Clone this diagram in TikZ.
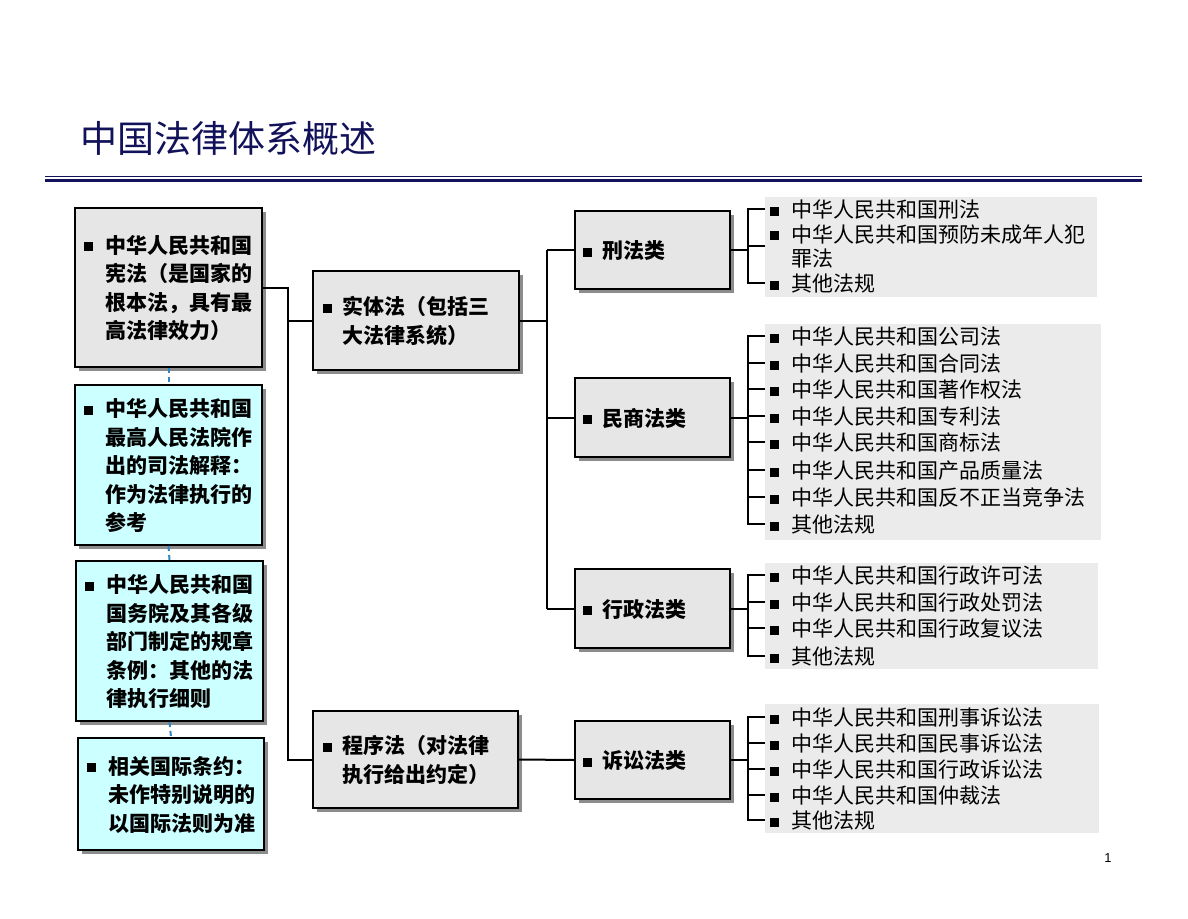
\documentclass[tikz,border=0pt]{standalone}
\usepackage{fontspec}
\setmainfont{Noto Sans CJK SC}
\newfontfamily\numfont{Liberation Sans}
\usetikzlibrary{shadows}
\definecolor{boxgray}{HTML}{E6E6E6}
\definecolor{boxcyan}{HTML}{CCFFFF}
\definecolor{itemgray}{HTML}{EBEBEB}
\definecolor{navy}{HTML}{12125A}
\definecolor{dashblue}{HTML}{2F86C0}
\newcommand{\bul}{\rule[2pt]{9pt}{9pt}}
\newcommand{\blines}[2][19pt]{\raisebox{-3pt}[\height][\depth]{\makebox[#1][l]{\bul}\begin{tabular}[t]{@{}l@{}}#2\end{tabular}}}

\begin{document}
\begin{tikzpicture}[x=1pt,y=-1pt]
\tikzstyle{box} = [draw=black, line width=2pt, fill=boxgray, drop shadow={shadow xshift=4pt, shadow yshift=-4pt, fill=black!45, opacity=1}, inner xsep=9pt, align=left, font=\fontsize{21}{28.5}\selectfont\bfseries]
\tikzstyle{cyanbox} = [box, fill=boxcyan]
\tikzstyle{item} = [anchor=west, inner xsep=5pt, inner ysep=0pt, font=\fontsize{21}{22}\selectfont]
\tikzstyle{edge} = [draw=black, line width=2pt]
\tikzstyle{dashline} = [draw=dashblue, line width=2pt, dash pattern=on 5pt off 4pt]

\useasboundingbox (0,0) rectangle (1188,918);

% title
\node[anchor=west, inner sep=0pt, text=navy, font=\fontsize{37}{40}\selectfont] (title) at (80,138) {中国法律体系概述};
\draw[navy, line width=1pt] (45,176) -- (1142,176);
\draw[navy, line width=3.5pt] (45,180.5) -- (1142,180.5);

% left column
\node[box, minimum width=187pt, minimum height=159pt, text width=169pt] (xianfa) at (168.5,287.5)
  {\blines[21pt]{中华人民共和国\\宪法（是国家的\\根本法，具有最\\高法律效力）}};
\node[cyanbox, minimum width=187pt, minimum height=160pt, text width=169pt] (sifa) at (168.5,465)
  {\blines[21pt]{中华人民共和国\\最高人民法院作\\出的司法解释：\\作为法律执行的\\参考}};
\node[cyanbox, minimum width=187pt, minimum height=160pt, text width=169pt] (guizhang) at (169.5,641)
  {\blines[21pt]{中华人民共和国\\国务院及其各级\\部门制定的规章\\条例：其他的法\\律执行细则}};
\node[cyanbox, minimum width=186pt, minimum height=112pt, text width=168pt] (guoji) at (171,794)
  {\blines[21pt]{相关国际条约：\\未作特别说明的\\以国际法则为准}};

\draw[dashline] (xianfa.south) -- (sifa.north);
\draw[dashline] (sifa.south) -- (guizhang.north);
\draw[dashline] (guizhang.south) -- (guoji.north);

% middle column
\node[box, minimum width=206pt, minimum height=99pt, text width=186pt, inner xsep=10pt] (shiti) at (416,320.5)
  {\blines{实体法（包括三\\大法律系统）}};
\node[box, minimum width=205pt, minimum height=97pt, text width=185pt, inner xsep=10pt] (chengxu) at (415.5,759.5)
  {\blines{程序法（对法律\\执行给出约定）}};

\coordinate (jx) at (288,0);
\draw[edge] (xianfa.east) -- (xianfa.east -| jx) |- (chengxu.west);
\draw[edge] (jx |- shiti.west) -- (shiti.west);

% categories
\node[box, minimum width=155pt, minimum height=78pt, text width=139pt, inner xsep=8pt] (xing) at (652.5,250) {\blines{刑法类}};
\node[box, minimum width=155pt, minimum height=79pt, text width=139pt, inner xsep=8pt] (minshang) at (652.5,417.5) {\blines{民商法类}};
\node[box, minimum width=155pt, minimum height=79pt, text width=139pt, inner xsep=8pt] (xingzheng) at (652.5,608.5) {\blines{行政法类}};
\node[box, minimum width=155pt, minimum height=78pt, text width=139pt, inner xsep=8pt] (susong) at (652.5,760) {\blines{诉讼法类}};

\coordinate (kx) at (547,0);
\draw[edge] (shiti.east) -- (shiti.east -| kx);
\draw[edge] (kx |- xing.west) -- (kx |- xingzheng.west);
\draw[edge] (kx |- xing.west) -- (xing.west);
\draw[edge] (kx |- minshang.west) -- (minshang.west);
\draw[edge] (kx |- xingzheng.west) -- (xingzheng.west);
\draw[edge] (chengxu.east) -- (susong.west);

% item backgrounds
\fill[itemgray] (765,197) rectangle (1097,297);
\fill[itemgray] (765,324) rectangle (1101,540);
\fill[itemgray] (765,563) rectangle (1098,669);
\fill[itemgray] (765,704) rectangle (1099,833);

% items
\node[item] (x1) at (765,209) {\blines[21pt]{中华人民共和国刑法}};
\node[item] (x2) at (765,246) {\blines[21pt]{中华人民共和国预防未成年人犯\\罪法}};
\node[item] (x3) at (765,283) {\blines[21pt]{其他法规}};

\node[item] (m1) at (765,336) {\blines[21pt]{中华人民共和国公司法}};
\node[item] (m2) at (765,363) {\blines[21pt]{中华人民共和国合同法}};
\node[item] (m3) at (765,389) {\blines[21pt]{中华人民共和国著作权法}};
\node[item] (m4) at (765,416) {\blines[21pt]{中华人民共和国专利法}};
\node[item] (m5) at (765,442) {\blines[21pt]{中华人民共和国商标法}};
\node[item] (m6) at (765,470) {\blines[21pt]{中华人民共和国产品质量法}};
\node[item] (m7) at (765,497) {\blines[21pt]{中华人民共和国反不正当竞争法}};
\node[item] (m8) at (765,524) {\blines[21pt]{其他法规}};

\node[item] (z1) at (765,575) {\blines[21pt]{中华人民共和国行政许可法}};
\node[item] (z2) at (765,602) {\blines[21pt]{中华人民共和国行政处罚法}};
\node[item] (z3) at (765,628) {\blines[21pt]{中华人民共和国行政复议法}};
\node[item] (z4) at (765,656) {\blines[21pt]{其他法规}};

\node[item] (s1) at (765,717) {\blines[21pt]{中华人民共和国刑事诉讼法}};
\node[item] (s2) at (765,743) {\blines[21pt]{中华人民共和国民事诉讼法}};
\node[item] (s3) at (765,769) {\blines[21pt]{中华人民共和国行政诉讼法}};
\node[item] (s4) at (765,795) {\blines[21pt]{中华人民共和国仲裁法}};
\node[item] (s5) at (765,820) {\blines[21pt]{其他法规}};

% brackets
\coordinate (bx) at (748,0);
\draw[edge] (xing.east) -- (xing.east -| bx);
\draw[edge] (x1.west) -| (x3.west -| bx) -- (x3.west);
\draw[edge] (bx |- x2.west) -- (x2.west);

\draw[edge] (minshang.east) -- (minshang.east -| bx);
\draw[edge] (m1.west) -| (m8.west -| bx) -- (m8.west);
\draw[edge] (bx |- m2.west) -- (m2.west) (bx |- m3.west) -- (m3.west) (bx |- m4.west) -- (m4.west)
  (bx |- m5.west) -- (m5.west) (bx |- m6.west) -- (m6.west) (bx |- m7.west) -- (m7.west);

\draw[edge] (xingzheng.east) -- (xingzheng.east -| bx);
\draw[edge] (z1.west) -| (z4.west -| bx) -- (z4.west);
\draw[edge] (bx |- z2.west) -- (z2.west) (bx |- z3.west) -- (z3.west);

\draw[edge] (susong.east) -- (susong.east -| bx);
\draw[edge] (s1.west) -| (s5.west -| bx) -- (s5.west);
\draw[edge] (bx |- s2.west) -- (s2.west) (bx |- s3.west) -- (s3.west) (bx |- s4.west) -- (s4.west);

% page number
\node[font=\numfont\fontsize{13}{15}\selectfont] (pagenum) at (1108,858) {1};
\end{tikzpicture}
\end{document}
